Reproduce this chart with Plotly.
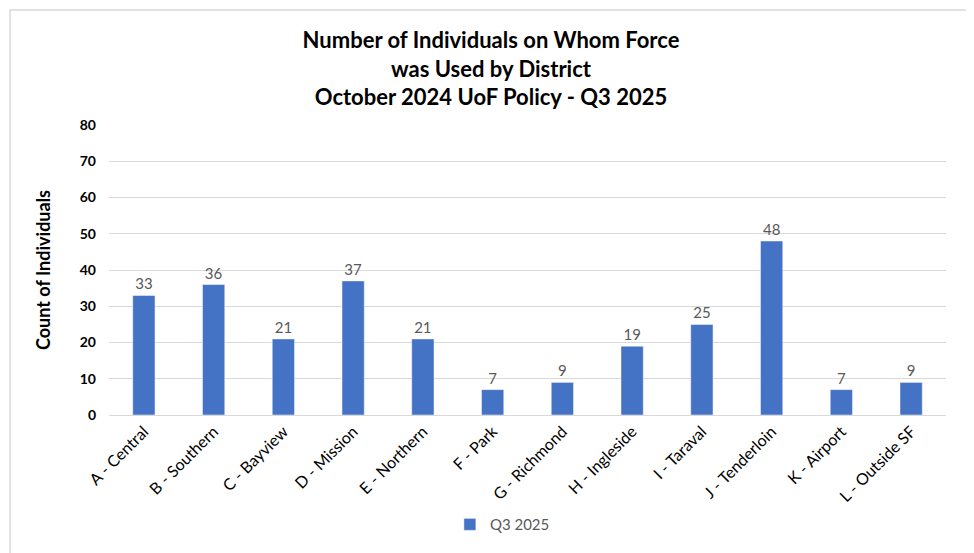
import plotly.graph_objs as go

districts = ["A - Central", "B - Southern", "C - Bayview", "D - Mission", "E - Northern",
             "F - Park", "G - Richmond", "H - Ingleside", "I - Taraval", "J - Tenderloin",
             "K - Airport", "L - Outside SF"]
counts = [33, 36, 21, 37, 21, 7, 9, 19, 25, 48, 7, 9]
y_ticks = [0, 10, 20, 30, 40, 50, 60, 70, 80]

# page body adds an 8px margin, so the figure is a bit smaller than the window
W, H = 966, 545
L, R, T, B = 101, 28, 117, 138

fig = go.Figure(go.Bar(
    x=districts, y=counts, name="Q3 2025",
    marker=dict(color="#4472C4"),
    text=counts, textposition="outside",
    textfont=dict(size=15, color="#595959", family="Lato"),
    cliponaxis=False,
))

fig.update_layout(
    width=W, height=H,
    title=dict(text="<b>Number of Individuals on Whom Force<br>was Used by District<br>October 2024 UoF Policy - Q3 2025</b>",
               font=dict(size=22, color="black", family="Lato"), x=0.5, xanchor="center",
               y=1 - 40 / H, yanchor="top"),
    template="plotly_white",
    margin=dict(l=L, r=R, t=T, b=B, autoexpand=False),
    bargap=0.68,
    paper_bgcolor="white", plot_bgcolor="white",
    font=dict(family="Lato", color="black"),
    showlegend=True,
    legend=dict(orientation="h", x=0.47, xanchor="center", y=-0.378, yanchor="middle",
                font=dict(size=15, color="#595959")),
    xaxis=dict(tickangle=-45, tickfont=dict(size=16, color="black"), showgrid=False, automargin=False,
               showline=True, linecolor="#D9D9D9", linewidth=1, ticks=""),
    yaxis=dict(range=[0, 80], tickvals=y_ticks, automargin=False,
               tickfont=dict(size=14, color="black", family="Lato", weight="bold"),
               ticklabelstandoff=12,
               gridcolor="#D9D9D9", zeroline=False,
               title=dict(text="<b>Count of Individuals</b>", font=dict(size=18, color="black"), standoff=24)),
)

# chart border
pw, ph = W - L - R, H - T - B
fig.add_shape(type="rect", xref="paper", yref="paper",
              x0=(2 - L) / pw, x1=(W + 10 - L) / pw, y0=-(B + 10) / ph, y1=1 + (T - 2) / ph,
              line=dict(color="#D9D9D9", width=1.5), layer="below")

fig.write_html("out.html")
